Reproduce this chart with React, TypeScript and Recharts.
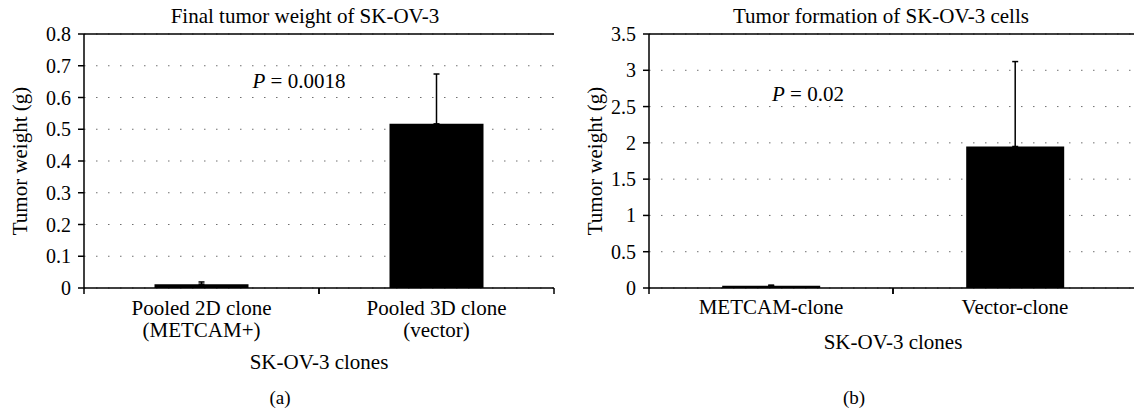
import {
  Bar,
  BarChart,
  CartesianGrid,
  ErrorBar,
  ReferenceLine,
  XAxis,
  YAxis,
} from "recharts";

const FONT = '"Liberation Serif", "Times New Roman", serif';
const serif = { fontFamily: FONT };

// (a) Final tumor weight of SK-OV-3
const weightCategories = ["Pooled 2D clone\n(METCAM+)", "Pooled 3D clone\n(vector)"];
const weightMeans = [0.012, 0.517];
const weightErrors = [0.007, 0.157];
const weightTicks = [0, 0.1, 0.2, 0.3, 0.4, 0.5, 0.6, 0.7, 0.8];

// (b) Tumor formation of SK-OV-3 cells
const formationCategories = ["METCAM-clone", "Vector-clone"];
const formationMeans = [0.03, 1.95];
const formationErrors = [0.01, 1.17];
const formationTicks = [0, 0.5, 1, 1.5, 2, 2.5, 3, 3.5];

type PanelProps = {
  categories: string[];
  means: number[];
  errors: number[];
  ticks: number[];
  width: number;
  yAxisWidth: number;
  marginRight: number;
  labelOffset: number;
  tickDy: number;
  axisTitleY: number;
  rightBorder: boolean;
};

function CloneTick(props: any) {
  const { x, y, payload, tickDy, bandHalf } = props;
  const half = payload?.offset ?? bandHalf;
  const lines = String(payload.value).split("\n");
  return (
    <g>
      <line x1={x - half} x2={x - half} y1={y} y2={y + 6} stroke="#000" strokeWidth={1.5} />
      <line x1={x + half} x2={x + half} y1={y} y2={y + 6} stroke="#000" strokeWidth={1.5} />
      <text x={x} y={y} textAnchor="middle" style={serif} fontSize={21} fill="#000">
        {lines.map((line, i) => (
          <tspan key={i} x={x} dy={i === 0 ? tickDy : 22}>
            {line}
          </tspan>
        ))}
      </text>
    </g>
  );
}

function WeightTick(props: any) {
  const { x, y, payload } = props;
  return (
    <text x={x} y={y} dy={7} textAnchor="end" style={serif} fontSize={20} fill="#000">
      {String(payload.value)}
    </text>
  );
}

function ClonePanel(p: PanelProps) {
  const data = p.categories.map((name, i) => ({
    name,
    value: p.means[i],
    err: [0, p.errors[i]],
  }));
  const top = p.ticks[p.ticks.length - 1];
  const plotWidth = p.width - p.yAxisWidth - p.marginRight;
  const bandHalf = plotWidth / p.categories.length / 2;

  return (
    <BarChart
      width={p.width}
      height={412}
      data={data}
      margin={{ top: 34, right: p.marginRight, left: 0, bottom: 0 }}
      barCategoryGap="30%"
    >
      <CartesianGrid vertical={false} stroke="#6f6f6f" strokeDasharray="1.5 10.5" />
      <XAxis
        dataKey="name"
        height={124}
        interval={0}
        tickLine={false}
        tickSize={0}
        tickMargin={0}
        axisLine={{ stroke: "#000", strokeWidth: 1.5 }}
        tick={(t: any) => <CloneTick {...t} tickDy={p.tickDy} bandHalf={bandHalf} />}
        label={{
          content: ({ viewBox }: any) => (
            <text
              x={viewBox.x + viewBox.width / 2}
              y={p.axisTitleY}
              textAnchor="middle"
              style={serif}
              fontSize={21}
              fill="#000"
            >
              SK-OV-3 clones
            </text>
          ),
        }}
      />
      <YAxis
        width={p.yAxisWidth}
        domain={[0, top]}
        ticks={p.ticks}
        interval={0}
        tickSize={6}
        tickMargin={7}
        tickLine={{ stroke: "#000", strokeWidth: 1.5 }}
        axisLine={{ stroke: "#000", strokeWidth: 1.5 }}
        tick={(t: any) => <WeightTick {...t} />}
        label={{
          content: ({ viewBox }: any) => {
            const cx = viewBox.x + p.labelOffset;
            const cy = viewBox.y + viewBox.height / 2;
            return (
              <text
                x={cx}
                y={cy}
                dy={7}
                transform={`rotate(-90, ${cx}, ${cy})`}
                textAnchor="middle"
                style={serif}
                fontSize={21}
                fill="#000"
              >
                Tumor weight (g)
              </text>
            );
          },
        }}
      />
      {p.rightBorder && (
        <YAxis
          yAxisId="frame"
          orientation="right"
          width={0}
          tick={false}
          tickLine={false}
          axisLine={{ stroke: "#222", strokeWidth: 1.5 }}
        />
      )}
      <ReferenceLine y={top} stroke="#000" strokeWidth={1.5} />
      <Bar dataKey="value" fill="#000" isAnimationActive={false}>
        <ErrorBar dataKey="err" width={3} stroke="#000" strokeWidth={1.5} direction="y" />
      </Bar>
    </BarChart>
  );
}

export default function App() {
  return (
    <div
      style={{
        position: "absolute",
        left: 0,
        top: 0,
        width: 1134,
        height: 412,
        overflow: "hidden",
        background: "#fff",
      }}
    >
      <div style={{ position: "absolute", left: 0, top: 0 }}>
        <ClonePanel
          categories={weightCategories}
          means={weightMeans}
          errors={weightErrors}
          ticks={weightTicks}
          width={570}
          yAxisWidth={84}
          marginRight={16}
          labelOffset={20}
          tickDy={27}
          axisTitleY={369}
          rightBorder
        />
      </div>
      <div style={{ position: "absolute", left: 570, top: 0 }}>
        <ClonePanel
          categories={formationCategories}
          means={formationMeans}
          errors={formationErrors}
          ticks={formationTicks}
          width={572}
          yAxisWidth={79}
          marginRight={5}
          labelOffset={25}
          tickDy={26}
          axisTitleY={349}
          rightBorder={false}
        />
      </div>
      <svg
        width={1134}
        height={412}
        style={{ position: "absolute", left: 0, top: 0, pointerEvents: "none" }}
      >
        <text x={305} y={23} textAnchor="middle" fontSize={21} style={serif} fill="#000">
          Final tumor weight of SK-OV-3
        </text>
        <text x={881} y={23} textAnchor="middle" fontSize={21} style={serif} fill="#000">
          Tumor formation of SK-OV-3 cells
        </text>
        <text x={299} y={88} textAnchor="middle" fontSize={21} style={serif} fill="#000">
          <tspan fontStyle="italic">P</tspan> = 0.0018
        </text>
        <text x={808} y={101} textAnchor="middle" fontSize={21} style={serif} fill="#000">
          <tspan fontStyle="italic">P</tspan> = 0.02
        </text>
        <text x={280} y={404} textAnchor="middle" fontSize={19} style={serif} fill="#000">
          (a)
        </text>
        <text x={854} y={404} textAnchor="middle" fontSize={19} style={serif} fill="#000">
          (b)
        </text>
      </svg>
    </div>
  );
}
